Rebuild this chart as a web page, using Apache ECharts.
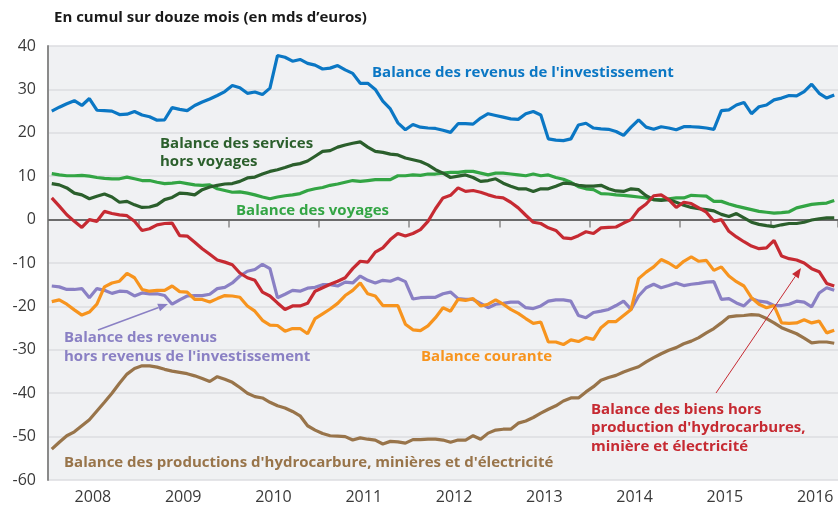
<!DOCTYPE html>
<html>
<head>
<meta charset="utf-8">
<script src="https://cdn.jsdelivr.net/npm/echarts@6/dist/echarts.min.js"></script>
<style>
  html, body { margin: 0; padding: 0; background: #fff; }
  #chart1 { width: 838px; height: 506px; }
</style>
</head>
<body>
<div id="chart1"></div>
<script>
// Monthly data, Jan 2008 - Sep 2016 (12-month cumulative, bn euros)
var years = ['2008', '2009', '2010', '2011', '2012', '2013', '2014', '2015', '2016'];
var months = [];
years.forEach(function (y) {
    for (var m = 1; m <= 12; m++) {
        if (months.length < 105) months.push(y + '-' + (m < 10 ? '0' + m : m));
    }
});

var revInvest = [25.0, 25.9, 26.7, 27.4, 26.3, 27.9, 25.2, 25.1, 25.0, 24.2, 24.3, 24.9,
    24.1, 23.7, 22.9, 23.0, 25.8, 25.4, 25.1, 26.3, 27.1, 27.8, 28.6, 29.5,
    30.9, 30.4, 29.1, 29.4, 28.8, 30.3, 37.8, 37.4, 36.5, 36.9, 36.0, 35.6,
    34.7, 34.9, 35.5, 34.5, 33.7, 31.4, 31.4, 30.0, 27.3, 25.5, 22.3, 20.7,
    21.9, 21.3, 21.1, 21.0, 20.6, 20.1, 22.1, 22.1, 22.0, 23.4, 24.4, 24.0,
    23.6, 23.2, 23.1, 24.4, 24.9, 24.1, 18.6, 18.3, 18.2, 18.6, 21.8, 22.2,
    21.1, 20.9, 20.8, 20.3, 19.4, 21.3, 23.0, 21.3, 20.8, 21.4, 21.1, 20.7,
    21.4, 21.4, 21.3, 21.1, 20.8, 25.1, 25.3, 26.4, 27.0, 24.4, 26.0, 26.4,
    27.6, 28.0, 28.6, 28.5, 29.5, 31.2, 29.1, 28.0, 28.7];

var servHorsVoy = [8.3, 8.0, 7.3, 6.1, 5.7, 4.8, 5.4, 5.9, 5.2, 4.0, 4.2, 3.4,
    2.8, 2.9, 3.4, 4.6, 5.1, 6.1, 6.0, 5.7, 6.9, 7.5, 7.9, 8.2,
    8.3, 8.8, 9.6, 9.8, 10.5, 11.1, 11.5, 12.0, 12.6, 12.9, 13.5, 14.6,
    15.7, 15.9, 16.7, 17.2, 17.6, 17.9, 16.7, 15.7, 15.5, 15.1, 14.9, 14.2,
    13.8, 13.4, 12.6, 11.5, 10.7, 9.7, 10.0, 10.3, 9.7, 8.8, 9.0, 9.4,
    8.4, 7.7, 7.1, 7.1, 6.5, 7.1, 7.1, 7.7, 8.4, 8.3, 7.9, 7.7,
    7.7, 7.9, 7.1, 6.6, 6.5, 7.1, 6.9, 5.5, 4.6, 4.4, 4.6, 4.0,
    3.3, 2.8, 2.5, 2.3, 2.0, 1.2, 0.7, 1.4, 0.4, -0.6, -1.1, -1.4,
    -1.6, -1.2, -0.9, -0.9, -0.6, -0.1, 0.2, 0.4, 0.4];

var voyages = [10.6, 10.3, 10.1, 10.1, 10.2, 10.0, 9.7, 9.5, 9.4, 9.4, 9.8, 9.4,
    9.0, 9.0, 8.6, 8.3, 8.4, 8.6, 8.3, 8.0, 7.9, 8.0, 7.1, 6.7,
    6.3, 6.4, 6.1, 5.7, 5.2, 4.8, 5.2, 5.5, 5.7, 6.0, 6.7, 7.1,
    7.4, 7.9, 8.2, 8.6, 9.0, 8.8, 9.0, 9.2, 9.2, 9.2, 10.1, 10.1,
    10.3, 10.2, 10.5, 10.5, 10.7, 10.9, 10.9, 11.1, 11.1, 10.7, 10.3, 10.7,
    10.7, 10.5, 10.3, 10.1, 10.5, 10.1, 10.3, 9.7, 9.3, 8.6, 7.6, 7.1,
    6.9, 6.0, 5.9, 5.7, 5.6, 5.4, 5.2, 5.0, 4.6, 4.6, 4.8, 5.0,
    5.0, 5.6, 5.5, 5.4, 4.2, 4.2, 3.6, 3.1, 2.7, 2.3, 1.9, 1.7,
    1.5, 1.6, 1.8, 2.7, 3.1, 3.5, 3.7, 3.8, 4.4];

var biensHorsProd = [5.0, 3.1, 1.1, -0.4, -1.8, 0.0, -0.4, 1.9, 1.4, 1.1, 0.9, -0.4,
    -2.5, -2.1, -1.2, -0.9, -0.8, -3.7, -3.8, -5.2, -6.7, -8.0, -9.3, -9.8,
    -10.4, -12.3, -13.4, -14.0, -16.7, -17.6, -19.2, -20.7, -19.9, -19.9, -19.3, -16.5,
    -15.7, -14.9, -14.2, -13.4, -11.3, -9.6, -9.8, -7.5, -6.5, -4.6, -3.2, -3.8,
    -3.2, -2.3, -0.4, 2.5, 5.0, 5.6, 7.3, 6.5, 6.7, 6.3, 5.7, 5.2,
    5.0, 4.0, 2.7, 1.0, -0.6, -0.9, -1.9, -2.5, -4.2, -4.4, -3.7, -2.8,
    -3.2, -1.9, -1.8, -1.7, -0.8, 0.0, 2.3, 3.6, 5.5, 5.7, 4.6, 2.8,
    4.0, 3.7, 2.7, 1.7, -0.4, 0.0, -2.7, -4.0, -5.1, -6.1, -6.7, -6.5,
    -4.8, -8.4, -9.0, -9.3, -10.0, -11.3, -12.0, -14.7, -15.3];

var revHorsInvest = [-15.3, -15.5, -16.1, -16.1, -15.9, -18.0, -15.9, -16.3, -17.0, -16.5, -16.6, -17.6,
    -16.9, -17.1, -17.1, -17.5, -19.5, -18.5, -17.6, -17.5, -17.5, -17.2, -15.9, -15.6,
    -14.6, -13.0, -11.9, -11.5, -10.3, -11.3, -18.0, -17.2, -16.3, -16.5, -15.8, -15.6,
    -15.0, -15.0, -15.3, -14.4, -14.6, -13.0, -14.0, -14.6, -14.0, -14.2, -13.5, -14.3,
    -18.3, -18.0, -17.9, -17.9, -17.1, -16.7, -18.2, -18.4, -18.4, -19.3, -20.3, -19.5,
    -19.3, -19.0, -19.0, -20.3, -20.5, -19.9, -18.8, -18.5, -18.5, -18.8, -22.1, -22.6,
    -21.4, -21.1, -20.7, -19.8, -18.8, -20.7, -17.6, -15.7, -14.9, -15.7, -15.2, -14.6,
    -15.2, -14.9, -14.7, -14.4, -14.3, -18.4, -18.2, -19.2, -19.9, -18.2, -18.8, -19.0,
    -19.8, -19.8, -19.5, -18.8, -19.0, -20.1, -16.9, -15.7, -16.3];

var courante = [-18.9, -18.5, -19.5, -20.8, -22.0, -21.3, -19.5, -15.5, -14.6, -14.2, -12.4, -13.4,
    -16.1, -16.5, -16.3, -16.3, -15.3, -16.6, -16.7, -18.4, -18.4, -19.0, -18.2, -17.5,
    -17.6, -17.9, -19.9, -21.1, -23.2, -24.3, -24.4, -25.7, -25.1, -25.1, -26.3, -22.8,
    -21.7, -20.6, -19.3, -17.5, -16.3, -14.6, -17.1, -17.6, -19.8, -19.8, -19.8, -24.1,
    -25.4, -25.6, -24.5, -22.6, -20.3, -21.1, -18.4, -18.6, -18.2, -19.9, -19.5, -18.5,
    -19.5, -20.7, -21.6, -22.8, -23.9, -23.6, -28.2, -28.2, -28.8, -27.7, -28.1, -27.2,
    -27.6, -24.9, -23.5, -23.5, -22.1, -20.7, -13.6, -12.1, -10.9, -9.2, -10.0, -11.1,
    -9.6, -8.6, -9.6, -9.4, -11.7, -10.9, -13.0, -14.3, -15.3, -18.0, -19.5, -20.3,
    -19.8, -23.8, -23.9, -23.8, -23.1, -23.8, -23.4, -26.1, -25.5];

var hydrocarb = [-52.9, -51.3, -49.8, -48.9, -47.5, -46.1, -44.1, -42.1, -40.0, -37.7, -35.6, -34.3,
    -33.7, -33.7, -34.0, -34.5, -34.9, -35.2, -35.5, -36.0, -36.6, -37.3, -36.2, -36.8,
    -37.5, -38.7, -40.0, -40.8, -41.1, -42.1, -42.9, -43.4, -44.2, -45.2, -47.5, -48.5,
    -49.3, -49.8, -49.9, -50.0, -50.8, -50.3, -50.6, -50.8, -51.7, -51.1, -51.2, -51.5,
    -50.7, -50.7, -50.6, -50.6, -50.8, -51.3, -50.8, -50.8, -49.8, -50.6, -49.2, -48.5,
    -48.3, -48.3, -46.9, -46.4, -45.6, -44.6, -43.7, -42.9, -41.8, -41.1, -41.1, -39.7,
    -38.5, -37.0, -36.4, -35.9, -35.1, -34.5, -33.9, -32.8, -31.8, -30.9, -30.1, -29.5,
    -28.6, -28.0, -27.2, -26.1, -25.1, -23.8, -22.4, -22.2, -22.1, -21.9, -22.0, -22.8,
    -23.8, -24.9, -25.6, -26.3, -27.3, -28.4, -28.2, -28.2, -28.5];

var C = {
    blue: '#0b77c4', dkgreen: '#2b5f2c', green: '#33a544', red: '#c62a32',
    purple: '#8a80c4', orange: '#f7941e', brown: '#98744a'
};

function line(name, data, color, extra) {
    var s = {
        name: name, type: 'line', data: data, symbol: 'none', smooth: false,
        lineStyle: {color: color, width: 3.2}, itemStyle: {color: color}, z: 3
    };
    for (var k in extra) s[k] = extra[k];
    return s;
}

function arrow(x1, y1, x2, y2, color, w, len, half) {
    var dx = x2 - x1, dy = y2 - y1, d = Math.sqrt(dx * dx + dy * dy);
    var ux = dx / d, uy = dy / d, bx = x2 - ux * len, by = y2 - uy * len;
    return [
        {type: 'line', shape: {x1: x1, y1: y1, x2: bx, y2: by}, style: {stroke: color, lineWidth: w}, z: 10},
        {type: 'polygon', shape: {points: [[x2, y2], [bx + uy * half, by - ux * half], [bx - uy * half, by + ux * half]]},
            style: {fill: color}, z: 10}
    ];
}

function label(x, y, text, color, lh) {
    return {
        type: 'text', left: x, top: y, z: 10,
        style: {text: text, fill: color, font: 'bold 15px "Open Sans"', lineHeight: lh || 18}
    };
}

var chartDom = document.getElementById('chart1');
var myChart = echarts.init(chartDom);
var option;

option = {
    animation: false,
    grid: {
        left: 48, right: 0, top: 46, bottom: 26,
        show: true, backgroundColor: '#f0f1f3', borderWidth: 0
    },
    xAxis: {
        type: 'category',
        data: months,
        boundaryGap: true,
        axisLine: {show: false},
        axisTick: {
            show: true, length: 8,
            interval: function (i) { return i > 0 && i % 12 === 0; },
            lineStyle: {color: '#8a8a8a', width: 1.5}
        },
        axisLabel: {
            interval: function (i) { return i % 12 === 6; },
            formatter: function (v) { return v.slice(0, 4); },
            color: '#3a3a3a', fontSize: 16, fontFamily: 'Open Sans', margin: 9,
            padding: [0, 8, 0, 0]
        },
        splitLine: {show: false}
    },
    yAxis: {
        type: 'value',
        min: -60, max: 40, interval: 10,
        axisLine: {show: true, lineStyle: {color: '#8a8a8a', width: 2}},
        axisTick: {show: false},
        axisLabel: {color: '#3a3a3a', fontSize: 16, fontFamily: 'Open Sans', margin: 12},
        splitLine: {lineStyle: {color: '#dcdde1', width: 1.5}}
    },
    series: [
        line('Balance des productions', hydrocarb, C.brown),
        line('Balance des revenus hors revenus de l\'investissement', revHorsInvest, C.purple),
        line('Balance courante', courante, C.orange),
        line('Balance des voyages', voyages, C.green, {
            markLine: {
                silent: true, symbol: 'none', label: {show: false},
                lineStyle: {color: '#6b6b6b', width: 2, type: 'solid'},
                data: [{yAxis: 0}], z: 2
            }
        }),
        line('Balance des services hors voyages', servHorsVoy, C.dkgreen),
        line('Balance des biens hors production', biensHorsProd, C.red),
        line('Balance des revenus de l\'investissement', revInvest, C.blue)
    ],
    graphic: [
        {type: 'text', left: 54, top: 10, style: {text: 'En cumul sur douze mois (en mds d\u2019euros)', fill: '#1a1a1a', font: 'bold 15px "Open Sans"'}},
        label(372, 64, 'Balance des revenus de l\'investissement', C.blue),
        label(160, 135, 'Balance des services\nhors voyages', C.dkgreen),
        label(236, 202, 'Balance des voyages', C.green),
        label(64, 328, 'Balance des revenus\nhors revenus de l\'investissement', C.purple, 19),
        label(421, 348, 'Balance courante', C.orange),
        label(64, 454, 'Balance des productions d\'hydrocarbure, mini\u00e8res et d\'\u00e9lectricit\u00e9', C.brown),
        label(591, 400, 'Balance des biens hors\nproduction d\'hydrocarbures,\nmini\u00e8re et \u00e9lectricit\u00e9', C.red, 18.5)
    ].concat(arrow(98, 330, 168, 304, C.purple, 1.5, 10, 4))
     .concat(arrow(716, 393, 801, 268, C.red, 1, 10, 4))
};

option && myChart.setOption(option);
</script>
</body>
</html>
